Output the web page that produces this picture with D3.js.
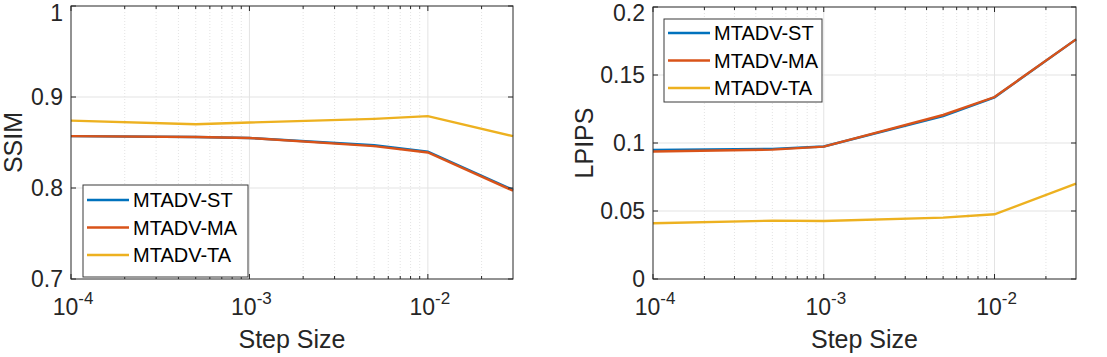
<!DOCTYPE html>
<html>
<head>
<meta charset="utf-8">
<script src="https://cdn.jsdelivr.net/npm/d3@7"></script>
<style>
  html, body { margin: 0; padding: 0; background: #fff; }
  svg { display: block; font-family: "Liberation Sans", Arial, Helvetica, sans-serif; }
</style>
</head>
<body>
<svg id="chart" width="1107" height="357"></svg>
<script>
// step sizes (x) shared by both panels
const stepSizes = [1e-4, 5e-4, 1e-3, 5e-3, 1e-2, 3e-2];
const seriesNames = ["MTADV-ST", "MTADV-MA", "MTADV-TA"];

// SSIM panel
const ssimST = [0.857, 0.856, 0.855, 0.847, 0.840, 0.798];
const ssimMA = [0.857, 0.856, 0.855, 0.846, 0.839, 0.797];
const ssimTA = [0.874, 0.870, 0.872, 0.876, 0.879, 0.857];
const ssimTicks = [0.7, 0.8, 0.9, 1];

// LPIPS panel
const lpipsST = [0.0949, 0.0957, 0.0974, 0.1198, 0.1336, 0.1762];
const lpipsMA = [0.0937, 0.0951, 0.0973, 0.1206, 0.1338, 0.1762];
const lpipsTA = [0.0410, 0.0429, 0.0427, 0.0451, 0.0476, 0.0701];
const lpipsTicks = [0, 0.05, 0.1, 0.15, 0.2];

const xTicks = [1e-4, 1e-3, 1e-2];
const colors = ["#0072BD", "#D95319", "#EDB120"];

const svg = d3.select("#chart");
const ink = "#262626";

function drawPanel(cfg) {
  const x = d3.scaleLog().domain([1e-4, 3e-2]).range([cfg.left, cfg.right]);
  const y = d3.scaleLinear().domain(cfg.yDomain).range([cfg.bottom, cfg.top]);
  const g = svg.append("g");

  // minor x grid (dotted)
  const minor = [];
  [1e-4, 1e-3, 1e-2].forEach((dec) => {
    for (let k = 2; k <= 9; k++) {
      const v = dec * k;
      if (v < 3e-2) minor.push(v);
    }
  });
  g.selectAll("line.mgrid").data(minor).enter().append("line")
    .attr("x1", (d) => x(d)).attr("x2", (d) => x(d))
    .attr("y1", cfg.top).attr("y2", cfg.bottom)
    .attr("stroke", "#dcdcdc").attr("stroke-width", 0.8)
    .attr("stroke-dasharray", "1,2");

  // major grids
  g.selectAll("line.xgrid").data(xTicks.slice(1)).enter().append("line")
    .attr("x1", (d) => x(d)).attr("x2", (d) => x(d))
    .attr("y1", cfg.top).attr("y2", cfg.bottom)
    .attr("stroke", "#e3e3e3").attr("stroke-width", 1);
  g.selectAll("line.ygrid").data(cfg.yTicks.slice(1, -1)).enter().append("line")
    .attr("x1", cfg.left).attr("x2", cfg.right)
    .attr("y1", (d) => y(d)).attr("y2", (d) => y(d))
    .attr("stroke", "#e3e3e3").attr("stroke-width", 1);

  // series
  const line = d3.line().x((d) => x(d[0])).y((d) => y(d[1]));
  cfg.series.forEach((vals, i) => {
    g.append("path")
      .datum(stepSizes.map((s, j) => [s, vals[j]]))
      .attr("d", line)
      .attr("fill", "none")
      .attr("stroke", colors[i])
      .attr("stroke-width", 2.4);
  });

  // box
  g.append("rect")
    .attr("x", cfg.left).attr("y", cfg.top)
    .attr("width", cfg.right - cfg.left).attr("height", cfg.bottom - cfg.top)
    .attr("fill", "none").attr("stroke", ink).attr("stroke-width", 1);

  // ticks (inward, both sides)
  const tl = 5, tm = 3;
  xTicks.forEach((t) => {
    g.append("line").attr("x1", x(t)).attr("x2", x(t))
      .attr("y1", cfg.bottom).attr("y2", cfg.bottom - tl).attr("stroke", ink);
    g.append("line").attr("x1", x(t)).attr("x2", x(t))
      .attr("y1", cfg.top).attr("y2", cfg.top + tl).attr("stroke", ink);
  });
  minor.forEach((t) => {
    g.append("line").attr("x1", x(t)).attr("x2", x(t))
      .attr("y1", cfg.bottom).attr("y2", cfg.bottom - tm).attr("stroke", ink);
    g.append("line").attr("x1", x(t)).attr("x2", x(t))
      .attr("y1", cfg.top).attr("y2", cfg.top + tm).attr("stroke", ink);
  });
  cfg.yTicks.forEach((t) => {
    g.append("line").attr("x1", cfg.left).attr("x2", cfg.left + tl)
      .attr("y1", y(t)).attr("y2", y(t)).attr("stroke", ink);
    g.append("line").attr("x1", cfg.right).attr("x2", cfg.right - tl)
      .attr("y1", y(t)).attr("y2", y(t)).attr("stroke", ink);
  });

  // y tick labels (top one kept inside the picture)
  g.selectAll("text.ytl").data(cfg.yTicks).enter().append("text")
    .attr("x", cfg.left - 8).attr("y", (d) => Math.max(y(d) + 8, 21))
    .attr("text-anchor", "end")
    .style("font-size", "23px").attr("fill", ink)
    .text((d) => String(d));

  // x tick labels 10^n
  xTicks.forEach((t) => {
    const e = Math.round(Math.log10(t));
    const tx = g.append("text")
      .attr("x", x(t) + 2).attr("y", 315)
      .attr("text-anchor", "middle")
      .style("font-size", "23px").attr("fill", ink);
    tx.append("tspan").text("10");
    tx.append("tspan").attr("dy", -11).style("font-size", "17px").text(String(e));
  });

  // axis labels
  g.append("text")
    .attr("x", (cfg.left + cfg.right) / 2).attr("y", 348)
    .attr("text-anchor", "middle")
    .style("font-size", "25px").attr("fill", ink)
    .text("Step Size");
  g.append("text")
    .attr("transform", `translate(${cfg.ylabelX},${(cfg.top + cfg.bottom) / 2}) rotate(-90)`)
    .attr("text-anchor", "middle")
    .style("font-size", "25px").attr("fill", ink)
    .text(cfg.ylabel);

  // legend
  const L = cfg.legend;
  g.append("rect")
    .attr("x", L.x).attr("y", L.y).attr("width", L.w).attr("height", L.h)
    .attr("fill", "#fff").attr("stroke", "#3a3a3a").attr("stroke-width", 1);
  seriesNames.forEach((name, i) => {
    const yy = L.y + L.first + i * L.step;
    g.append("line")
      .attr("x1", L.x + 4).attr("x2", L.x + 46)
      .attr("y1", yy).attr("y2", yy)
      .attr("stroke", colors[i]).attr("stroke-width", 2.4);
    g.append("text")
      .attr("x", L.x + 50).attr("y", yy + 7)
      .style("font-size", "20px").attr("fill", "#000")
      .text(name);
  });
}

drawPanel({
  left: 71, right: 513, top: 6, bottom: 279,
  yDomain: [0.7, 1], yTicks: ssimTicks,
  series: [ssimST, ssimMA, ssimTA],
  ylabel: "SSIM", ylabelX: 22,
  legend: { x: 83, y: 185, w: 165, h: 92, first: 15, step: 27.5 }
});

drawPanel({
  left: 653, right: 1076, top: 7, bottom: 279,
  yDomain: [0, 0.2], yTicks: lpipsTicks,
  series: [lpipsST, lpipsMA, lpipsTA],
  ylabel: "LPIPS", ylabelX: 593,
  legend: { x: 664, y: 19, w: 158, h: 83, first: 14, step: 27.5 }
});
</script>
</body>
</html>
